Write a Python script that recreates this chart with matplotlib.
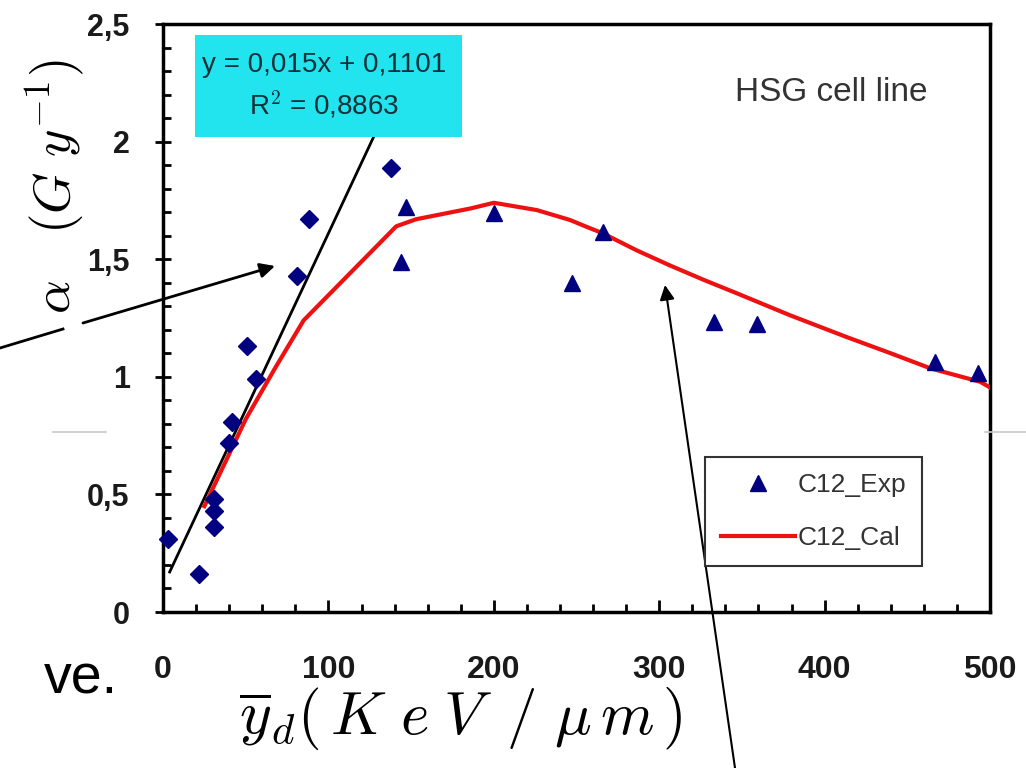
import numpy as np
import matplotlib
matplotlib.use("Agg")
import matplotlib.pyplot as plt
from matplotlib.patches import Rectangle
from matplotlib.ticker import MultipleLocator

plt.rcParams['font.family'] = ['Liberation Sans', 'DejaVu Sans']
plt.rcParams['mathtext.fontset'] = 'cm'

# diamonds: points used for the linear fit
diam_x = [3, 22, 31, 31, 31, 40, 42, 51, 56, 81, 88, 138]
diam_y = [0.31, 0.16, 0.48, 0.43, 0.36, 0.72, 0.81, 1.13, 0.99, 1.43, 1.67, 1.89]

# C12 experimental (triangles)
exp_x = [144, 147, 200, 247, 266, 333, 359, 467, 493]
exp_y = [1.49, 1.72, 1.695, 1.40, 1.617, 1.234, 1.224, 1.064, 1.015]

# C12 calculated curve
cal_x = [25, 50, 68, 85, 113, 141, 153, 186, 200, 226, 246, 256, 266, 286, 306, 327,
         347, 379, 413, 440, 464, 494, 500]
cal_y = [0.45, 0.82, 1.04, 1.24, 1.44, 1.64, 1.67, 1.716, 1.74, 1.709, 1.667, 1.638,
         1.61, 1.539, 1.475, 1.412, 1.355, 1.262, 1.17, 1.10, 1.036, 0.979, 0.955]

# linear trend line  y = 0,015x + 0,1101
slope, intercept = 0.015, 0.1101
fit_range = [4, 128]

xticks = [0, 100, 200, 300, 400, 500]
xtick_labels = ['0', '100', '200', '300', '400', '500']
yticks = [0, 0.5, 1, 1.5, 2, 2.5]
ytick_labels = ['0', '0,5', '1', '1,5', '2', '2,5']

navy = '#000080'

fig = plt.figure(figsize=(10.26, 7.68), dpi=100)
ax = fig.add_axes([0.1589, 0.2031, 0.806, 0.7656])

fx = np.array(fit_range, dtype=float)
ax.plot(fx, slope * fx + intercept, color='black', lw=2, zorder=2)
ax.plot(cal_x, cal_y, color='#ee1111', lw=3, label='C12_Cal', zorder=3)
ax.plot(diam_x, diam_y, 'D', color=navy, ms=9, ls='none', zorder=4, clip_on=False)
ax.plot(exp_x, exp_y, '^', color=navy, ms=11, ls='none', label='C12_Exp', zorder=4,
        clip_on=False)

ax.set_xlim(0, 500)
ax.set_ylim(0, 2.5)
ax.set_xticks(xticks)
ax.set_xticklabels(xtick_labels)
ax.set_yticks(yticks)
ax.set_yticklabels(ytick_labels)
ax.xaxis.set_minor_locator(MultipleLocator(20))
ax.yaxis.set_minor_locator(MultipleLocator(0.1))

for s in ax.spines.values():
    s.set_linewidth(2.5)
ax.tick_params(axis='y', which='major', direction='inout', length=12, width=2, pad=18,
               labelsize=22, labelcolor='#1a1a1a')
ax.tick_params(axis='y', which='minor', direction='in', length=6, width=2)
ax.tick_params(axis='x', which='major', direction='in', length=9, width=2, pad=31,
               labelsize=23, labelcolor='#1a1a1a')
ax.tick_params(axis='x', which='minor', direction='in', length=6, width=2)
for lab in ax.get_xticklabels() + ax.get_yticklabels():
    lab.set_fontweight('bold')

# equation box
ax.add_patch(Rectangle((0.0387, 0.8078), 0.3228, 0.1735, transform=ax.transAxes,
                       facecolor='#22e4ee', edgecolor='none', zorder=5))
ax.text(0.1947, 0.930, 'y = 0,015x + 0,1101', transform=ax.transAxes, ha='center',
        va='center', fontsize=20, color='#123038', zorder=6)
ax.text(0.1947, 0.862, 'R$^2$ = 0,8863', transform=ax.transAxes, ha='center',
        va='center', fontsize=20, color='#123038', zorder=6)

ax.text(0.6917, 0.884, 'HSG cell line', transform=ax.transAxes, ha='left', va='center',
        fontsize=24, color='#333333')

h, l = ax.get_legend_handles_labels()
leg = ax.legend([h[1], h[0]], [l[1], l[0]], loc='upper left',
                bbox_to_anchor=(0.6554, 0.2636), borderaxespad=0, fontsize=19,
                handlelength=2.8, handletextpad=0.1, labelspacing=1.1,
                borderpad=0.6, fancybox=False, framealpha=1)
leg.get_frame().set_edgecolor('#333333')
leg.get_frame().set_linewidth(1.5)
for t in leg.get_texts():
    t.set_color('#333333')

# axis titles (math style)
fig.text(55 / 1026, 1 - 187 / 768, r'$\alpha\quad(G\ y^{-1})$', rotation=90,
         ha='center', va='center', fontsize=38)
fig.text(461 / 1026, 1 - 718 / 768,
         r'$\overline{y}_{d}(\,K\ e\;V\ \,/\ \mu\,m\,)$',
         ha='center', va='center', fontsize=44)

# leftover slide text
fig.text(118 / 1026, 1 - 693 / 768, 've.', ha='right', va='baseline', fontsize=40)

# annotation arrows
fig.add_artist(plt.Line2D([0, 63 / 1026], [1 - 348 / 768, 1 - 329 / 768],
                          color='black', lw=2))
fig.add_artist(plt.Line2D([53 / 1026, 106 / 1026], [1 - 432 / 768] * 2,
                          color='#c8c8c8', lw=1.2))
fig.add_artist(plt.Line2D([985 / 1026, 1.0], [1 - 432 / 768] * 2,
                          color='#c8c8c8', lw=1.2))
ax.annotate('', xy=(275 / 1026, 1 - 266 / 768), xycoords='figure fraction',
            xytext=(83 / 1026, 1 - 323 / 768), textcoords='figure fraction',
            arrowprops=dict(arrowstyle='-|>', color='black', lw=2, mutation_scale=22,
                            shrinkA=0, shrinkB=0), annotation_clip=False)
ax.annotate('', xy=(665 / 1026, 1 - 285 / 768), xycoords='figure fraction',
            xytext=(735 / 1026, 0.0), textcoords='figure fraction',
            arrowprops=dict(arrowstyle='-|>', color='black', lw=1.5, mutation_scale=22,
                            shrinkA=0, shrinkB=0), annotation_clip=False)

fig.savefig('out.png', dpi=100)
